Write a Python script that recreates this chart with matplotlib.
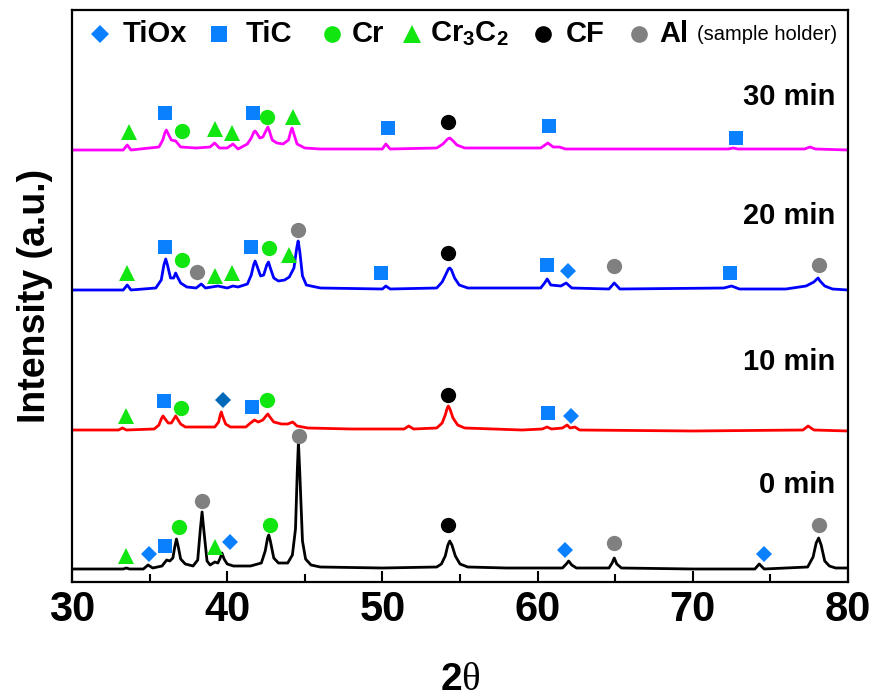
import matplotlib
matplotlib.use("Agg")
import matplotlib.pyplot as plt
import numpy as np

plt.rcParams["font.family"] = ["Liberation Sans", "DejaVu Sans"]
plt.rcParams["mathtext.fontset"] = "custom"
plt.rcParams["mathtext.rm"] = "Liberation Serif"

# xrd patterns: 2theta and intensity above each pattern's baseline
tt_0 = [30.0, 33.3, 33.5, 33.7, 34.6, 34.9, 35.2, 35.8, 36.1, 36.3, 36.5, 36.62, 36.73, 36.85,
        37.0, 37.3, 37.8, 38.1, 38.27, 38.38, 38.5, 38.7, 38.9, 39.2, 39.4, 39.55, 39.66, 39.8,
        40.0, 40.4, 41.5, 42.2, 42.45, 42.6, 42.68, 42.78, 43.0, 43.3, 43.9, 44.2, 44.4, 44.52,
        44.59, 44.68, 44.85, 45.05, 45.4, 46.0, 50.0, 53.5, 53.8, 54.05, 54.22, 54.34, 54.48,
        54.7, 55.0, 55.5, 58.0, 61.6, 61.85, 62.0, 62.2, 62.5, 64.6, 64.8, 64.94, 65.1, 65.4,
        70.0, 74.0, 74.28, 74.6, 77.4, 77.75, 77.95, 78.11, 78.27, 78.5, 78.8, 79.2, 80.0]
ii_0 = [0, 0, 1, 0, 0, 4, 1, 3, 9, 8, 11, 22, 30, 22,
        10, 5, 3, 9, 40, 57, 38, 8, 4, 7, 6, 11, 16, 10,
        5, 3, 3, 6, 18, 31, 34, 28, 11, 6, 6, 14, 40, 100,
        127, 95, 28, 10, 4, 2, 1, 2, 5, 13, 24, 28, 24,
        13, 5, 2, 1, 1, 5, 8, 4, 1, 1, 6, 11, 5, 1,
        0, 0, 5, 0, 2, 12, 26, 31, 24, 8, 3, 1, 1]

tt_10 = [30.0, 33.0, 33.25, 33.5, 35.3, 35.6, 35.78, 35.87, 36.0, 36.2, 36.4, 36.6, 36.68, 36.8,
         37.0, 37.3, 39.2, 39.45, 39.55, 39.62, 39.7, 39.9, 40.2, 41.2, 41.5, 41.76, 42.0, 42.3,
         42.5, 42.62, 42.75, 43.0, 43.5, 43.9, 44.22, 44.5, 45.2, 48.0, 51.4, 51.7, 52.0, 53.5,
         53.85, 54.05, 54.18, 54.25, 54.35, 54.55, 54.85, 55.3, 59.0, 60.3, 60.6, 60.9, 61.6,
         61.9, 62.1, 62.4, 62.7, 70.0, 77.1, 77.43, 77.8, 80.0]
ii_10 = [0, 0, 2, 0, 1, 5, 12, 14, 11, 7, 7, 12, 14, 11,
         6, 3, 3, 8, 15, 18, 14, 6, 3, 3, 7, 10, 8, 10,
         14, 16, 13, 8, 6, 6, 8, 4, 2, 1, 1, 4, 1, 2,
         7, 15, 22, 24, 21, 12, 5, 2, 0, 1, 3, 1, 2,
         5, 2, 3, 0, -1, 0, 4, 0, -1]

tt_20 = [30.0, 33.3, 33.56, 33.8, 35.4, 35.75, 35.92, 36.04, 36.15, 36.35, 36.55, 36.68, 36.8,
         37.0, 37.4, 38.0, 38.33, 38.6, 39.4, 40.0, 40.37, 40.7, 41.3, 41.55, 41.7, 41.8, 41.92,
         42.15, 42.35, 42.55, 42.66, 42.78, 43.0, 43.3, 43.7, 44.0, 44.3, 44.48, 44.57, 44.68,
         44.85, 45.1, 46.0, 50.0, 50.22, 50.5, 53.5, 53.85, 54.1, 54.25, 54.34, 54.45, 54.65,
         54.95, 55.5, 60.2, 60.45, 60.62, 60.85, 61.5, 61.84, 62.2, 64.6, 64.94, 65.3, 72.0,
         72.5, 73.0, 76.0, 77.3, 77.8, 78.0, 78.07, 78.2, 78.5, 79.0, 80.0]
ii_20 = [0, 0, 5, 0, 2, 10, 25, 31, 25, 12, 12, 17, 13,
         7, 3, 2, 6, 2, 4, 2, 4, 3, 6, 15, 25, 29, 24,
         14, 15, 25, 28, 22, 12, 9, 10, 13, 22, 42, 49, 38,
         14, 5, 2, 1, 4, 1, 2, 8, 16, 21, 22, 20, 12,
         5, 2, 2, 7, 11, 5, 4, 7, 2, 1, 7, 1, 2,
         4, 1, 1, 4, 8, 11, 12, 9, 4, 1, 0]

tt_30 = [30.0, 33.3, 33.56, 33.8, 35.6, 35.85, 35.98, 36.08, 36.2, 36.4, 36.68, 37.0, 38.0, 38.9,
         39.19, 39.5, 40.0, 40.37, 40.7, 41.3, 41.55, 41.72, 41.8, 41.9, 42.1, 42.3, 42.52, 42.62,
         42.72, 42.9, 43.2, 43.6, 43.95, 44.1, 44.18, 44.28, 44.5, 45.0, 46.0, 50.0, 50.22,
         50.5, 53.5, 53.9, 54.2, 54.34, 54.5, 54.8, 55.3, 60.2, 60.66, 61.0, 61.4, 61.8, 72.3,
         72.6, 72.9, 77.2, 77.55, 77.9, 80.0]
ii_30 = [0, 0, 5, 0, 3, 10, 17, 20, 16, 10, 9, 3, 2, 3,
         7, 2, 2, 6, 1, 6, 12, 18, 19, 17, 12, 13, 20, 23,
         19, 10, 7, 6, 10, 19, 22, 17, 6, 2, 1, 1, 6,
         1, 2, 6, 11, 12, 10, 5, 2, 2, 7, 3, 3, 1, 1,
         2, 1, 1, 3, 1, 0]

labels = ["0 min", "10 min", "20 min", "30 min"]
offsets = [13, 152, 292, 432]
line_colors = ["black", "#ff0000", "#0000ff", "#ff00ff"]

# phase markers: (phase, 2theta, height above baseline)
marks_0 = [("cr3c2", 33.5, 13), ("tiox", 34.95, 15), ("tic", 36.0, 23), ("cr", 36.9, 42),
           ("al", 38.38, 68), ("cr3c2", 39.23, 22), ("tiox", 40.15, 27), ("cr", 42.75, 44),
           ("al", 44.61, 133), ("cf", 54.25, 44), ("tiox", 61.79, 19), ("al", 64.94, 26),
           ("tiox", 74.58, 15), ("al", 78.14, 44)]
marks_10 = [("cr3c2", 33.5, 14), ("tic", 35.94, 29), ("cr", 37.0, 22), ("tiox_dark", 39.73, 30),
            ("tic", 41.59, 23), ("cr", 42.58, 30), ("cf", 54.25, 35), ("tic", 60.7, 17),
            ("tiox", 62.15, 14)]
marks_20 = [("cr3c2", 33.56, 17), ("tic", 36.02, 43), ("cr", 37.1, 30), ("al", 38.08, 18),
            ("cr3c2", 39.19, 14), ("cr3c2", 40.3, 17), ("tic", 41.55, 43), ("cr", 42.68, 42),
            ("cr3c2", 43.97, 35), ("al", 44.57, 60), ("tic", 49.94, 17), ("cf", 54.25, 37),
            ("tic", 60.62, 25), ("tiox", 61.98, 19), ("al", 64.94, 24), ("tic", 72.4, 17),
            ("al", 78.14, 25)]
marks_30 = [("cr3c2", 33.69, 18), ("tic", 36.02, 37), ("cr", 37.09, 19), ("cr3c2", 39.19, 21),
            ("cr3c2", 40.33, 17), ("tic", 41.65, 37), ("cr", 42.58, 33), ("cr3c2", 44.27, 33),
            ("tic", 50.33, 22), ("cf", 54.25, 28), ("tic", 60.72, 24), ("tic", 72.78, 12)]

GREEN = "#11e611"
BLUE = "#0a80ff"
STYLE = {
    "tiox": dict(marker="D", color=BLUE, ms=8.5),
    "tiox_dark": dict(marker="D", color="#0068b8", ms=8.5),
    "tic": dict(marker="s", color=BLUE, ms=10.5),
    "cr": dict(marker="o", color=GREEN, ms=11),
    "cr3c2": dict(marker="^", color=GREEN, ms=11.5),
    "cf": dict(marker="o", color="black", ms=11),
    "al": dict(marker="o", color="#808080", ms=11),
}

fig = plt.figure(figsize=(8.74, 7.0), dpi=100)
ax = fig.add_axes([72 / 874, 1 - 582 / 700, 776 / 874, 572 / 700])

curves = [(tt_0, ii_0), (tt_10, ii_10), (tt_20, ii_20), (tt_30, ii_30)]
all_marks = [marks_0, marks_10, marks_20, marks_30]
label_y = [97, 220, 366, 485]
for (tt, ii), off, c, lab, marks, ly in zip(curves, offsets, line_colors, labels, all_marks, label_y):
    ax.plot(tt, np.array(ii) + off, color=c, lw=2.0, zorder=2)
    for phase, x, h in marks:
        st = STYLE[phase]
        ax.plot([x], [h + off], ls="none", marker=st["marker"], color=st["color"],
                ms=st["ms"], mew=0, zorder=3)
    ax.text(79.2, ly, lab, ha="right", va="center", fontsize=21, fontweight="bold")

# legend drawn by hand along the top of the axes
legend_items = [("tiox", 100, "TiOx", 123), ("tic", 219, "TiC", 246), ("cr", 332, "Cr", 352),
                ("cr3c2", 412, r"Cr$_\mathregular{3}$C$_\mathregular{2}$", 430),
                ("cf", 543, "CF", 566), ("al", 639, "Al", 659)]
ly = (582 - 34) / 572
for phase, mx, txt, tx in legend_items:
    st = STYLE[phase]
    ax.plot([(mx - 72) / 776], [ly], transform=ax.transAxes, ls="none", marker=st["marker"],
            color=st["color"], ms=st["ms"] + 1, mew=0, clip_on=False)
    ax.text((tx - 72) / 776, ly, txt, transform=ax.transAxes, ha="left", va="center",
            fontsize=21, fontweight="bold")
ax.text((697 - 72) / 776, ly, "(sample holder)", transform=ax.transAxes, ha="left",
        va="center", fontsize=14.5)

ax.set_xlim(30, 80)
ax.set_ylim(0, 572)
ax.set_yticks([])
ax.set_xticks([30, 40, 50, 60, 70, 80])
ax.set_xticks([35, 45, 55, 65, 75], minor=True)
ax.tick_params(axis="x", which="major", direction="in", length=8, width=1.5, pad=6,
               labelsize=30)
ax.tick_params(axis="x", which="minor", direction="in", length=6, width=1.5)
for lbl in ax.get_xticklabels():
    lbl.set_fontweight("bold")
for sp in ax.spines.values():
    sp.set_linewidth(1.6)

ax.set_ylabel("Intensity (a.u.)", fontsize=27, fontweight="bold", labelpad=14)
ax.set_xlabel(r"2$\mathrm{\theta}$", fontsize=28, fontweight="bold", labelpad=23)

fig.savefig("out.png", dpi=100)
